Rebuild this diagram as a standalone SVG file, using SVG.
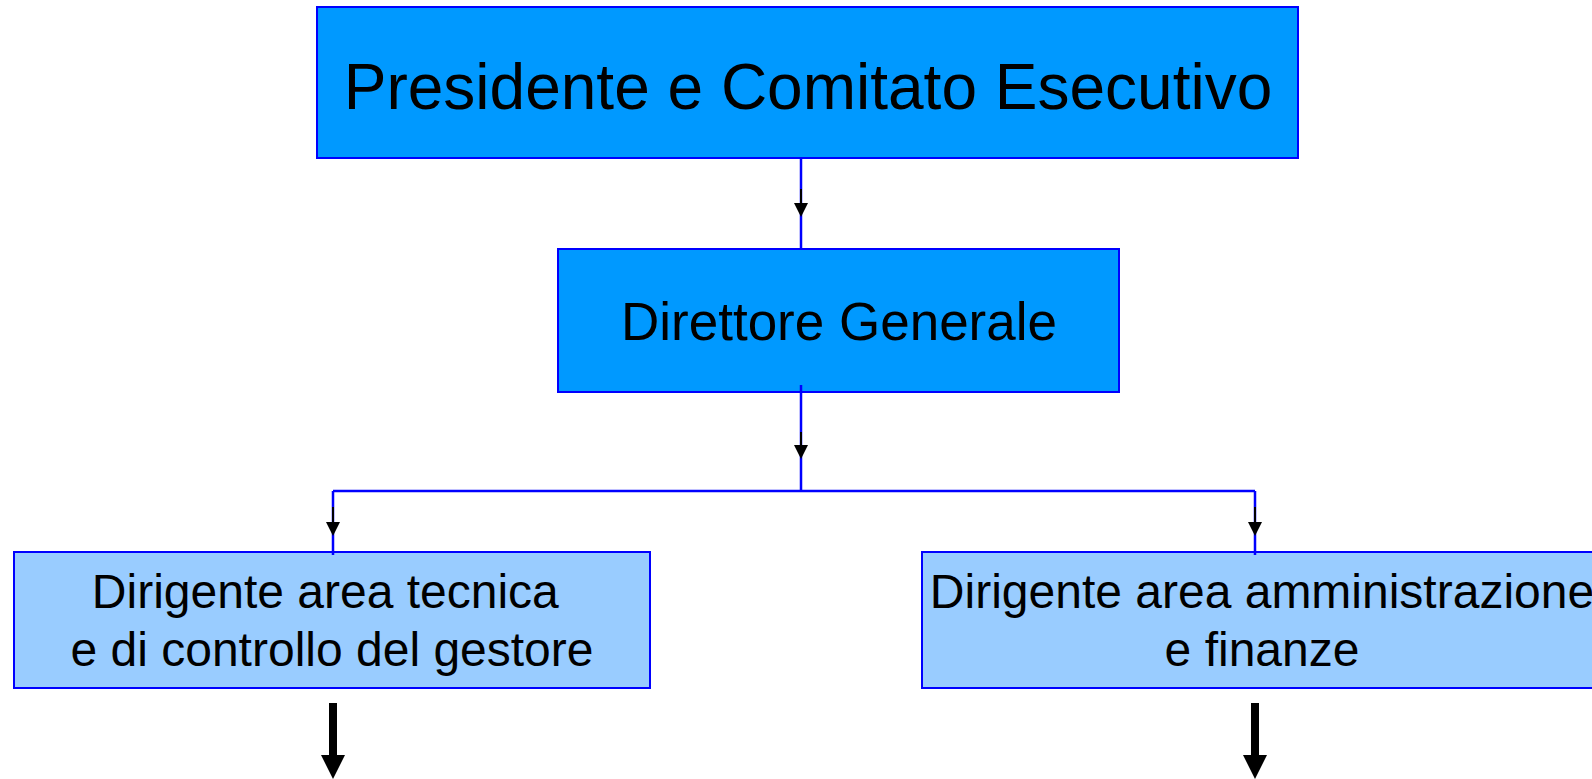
<svg xmlns="http://www.w3.org/2000/svg" width="1592" height="779" viewBox="0 0 1592 779">
  <style>
    .top { fill: #0099FF; stroke: #0000FF; stroke-width: 2; }
    .sub { fill: #99CCFF; stroke: #0000FF; stroke-width: 2; }
    .txt { font-family: "Liberation Sans", Arial, sans-serif; fill: #000; text-anchor: middle; }
    .blue { fill: none; stroke: #0000FF; stroke-width: 2.5; }
    .thin { stroke: #000; stroke-width: 2; }
    .thick { stroke: #000; stroke-width: 8; }
    .head { fill: #000; }
  </style>
  <rect width="1592" height="779" fill="#FFFFFF"/>

  <g id="connectors">
    <path class="blue" d="M801,158 V249"/>
    <path class="blue" d="M801,385 V491 M333,491 H1255 M333,491 V555 M1255,491 V555"/>
    <line class="thin" x1="801" y1="189" x2="801" y2="204"/>
    <path class="head" d="M794,203 L808,203 L801,217 z"/>
    <line class="thin" x1="801" y1="432" x2="801" y2="446"/>
    <path class="head" d="M794,445 L808,445 L801,459 z"/>
    <line class="thin" x1="333" y1="507" x2="333" y2="523"/>
    <path class="head" d="M326,522 L340,522 L333,536 z"/>
    <line class="thin" x1="1255" y1="507" x2="1255" y2="523"/>
    <path class="head" d="M1248,522 L1262,522 L1255,536 z"/>
    <line class="thick" x1="333" y1="703" x2="333" y2="757"/>
    <path class="head" d="M321,755 L345,755 L333,779 z"/>
    <line class="thick" x1="1255" y1="703" x2="1255" y2="757"/>
    <path class="head" d="M1243,755 L1267,755 L1255,779 z"/>
  </g>

  <g id="presidente">
    <rect class="top" x="317" y="7" width="981" height="151"/>
    <text class="txt" x="808" y="109" font-size="64">Presidente e Comitato Esecutivo</text>
  </g>

  <g id="direttore">
    <rect class="top" x="558" y="249" width="561" height="143"/>
    <text class="txt" x="839" y="340" font-size="53">Direttore Generale</text>
  </g>
  <path class="blue" d="M801,385 V392"/>

  <g id="area-tecnica">
    <rect class="sub" x="14" y="552" width="636" height="136"/>
    <text class="txt" x="332" y="608" font-size="48" xml:space="preserve">Dirigente area tecnica </text>
    <text class="txt" x="332" y="666" font-size="48">e di controllo del gestore</text>
  </g>

  <g id="area-amministrazione">
    <rect class="sub" x="922" y="552" width="680" height="136"/>
    <text class="txt" x="1262" y="608" font-size="48">Dirigente area amministrazione</text>
    <text class="txt" x="1262" y="666" font-size="48">e finanze</text>
  </g>
  <path class="blue" d="M333,552 V555 M1255,552 V555"/>
</svg>
